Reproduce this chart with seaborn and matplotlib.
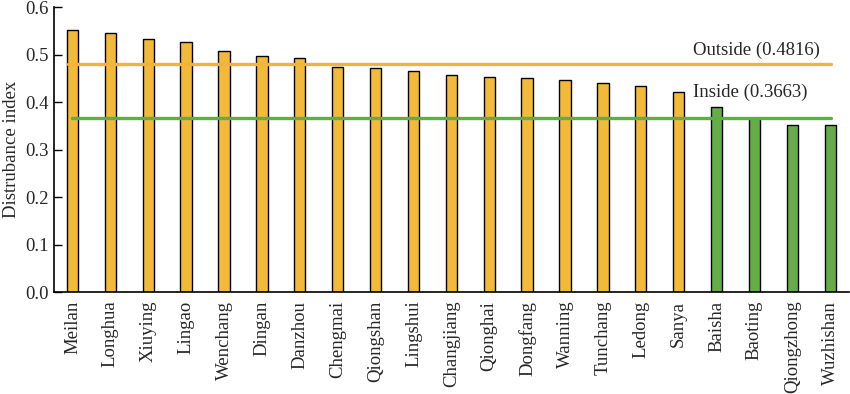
import matplotlib
matplotlib.use("Agg")
import matplotlib.pyplot as plt
import seaborn as sns
import pandas as pd
import numpy as np

# datos
regiones = ["Meilan", "Longhua", "Xiuying", "Lingao", "Wenchang", "Dingan", "Danzhou",
            "Chengmai", "Qiongshan", "Lingshui", "Changjiang", "Qionghai", "Dongfang",
            "Wanning", "Tunchang", "Ledong", "Sanya", "Baisha", "Baoting", "Qiongzhong",
            "Wuzhishan"]
indice = [0.552, 0.545, 0.533, 0.526, 0.507, 0.498, 0.493, 0.475, 0.473, 0.466,
          0.458, 0.454, 0.451, 0.447, 0.440, 0.435, 0.421, 0.390, 0.366, 0.353, 0.353]
grupo = ["Outside"] * 17 + ["Inside"] * 4
media_fuera = 0.4816
media_dentro = 0.3663

naranja = "#F2BA38"
verde = "#66AD4A"

df = pd.DataFrame({"Region": regiones, "Indice": indice, "Grupo": grupo})

sns.set_theme(style="white")
plt.rcParams["font.family"] = ["Liberation Serif", "DejaVu Serif"]
plt.rcParams["font.size"] = 13

fig = plt.figure(figsize=(8.5, 3.94), dpi=100)
ax = fig.add_axes([0.063, 0.258, 0.936, 0.7235])

sns.barplot(data=df, x="Region", y="Indice", hue="Grupo",
            palette={"Outside": naranja, "Inside": verde}, saturation=1,
            width=0.3, dodge=False, edgecolor="black", linewidth=1.0,
            legend=False, ax=ax)

# lineas de promedio
ax.plot([-0.12, 20.03], [media_fuera, media_fuera], color="#F2B33D", lw=2.4, zorder=1)
ax.plot([0.0, 20.03], [media_dentro, media_dentro], color="#5DAE45", lw=2.4, zorder=4)
ax.text(16.39, 0.510, f"Outside ({media_fuera})", fontsize=13.5, va="center")
ax.text(16.39, 0.420, f"Inside ({media_dentro})", fontsize=13.5, va="center")

ax.set_xlim(-0.5, 20.5)
ax.set_ylim(0, 0.6)
ax.set_yticks(np.arange(0, 0.61, 0.1))
ax.set_yticklabels([f"{v:.1f}" for v in np.arange(0, 0.61, 0.1)], fontsize=13.5)
ax.set_xticks(range(len(regiones)))
ax.set_xticklabels(regiones, rotation=90, fontsize=13.5)
ax.set_xticks(np.arange(0.5, 20.6, 1), minor=True)
ax.tick_params(axis="x", which="major", length=0, pad=6)
ax.tick_params(axis="x", which="minor", direction="in", length=6, width=1, color="black")
ax.tick_params(axis="y", direction="in", length=6, width=1, color="black", left=True)
ax.set_xlabel("")
ax.set_ylabel("Distrubance index", fontsize=13.5)
sns.despine(ax=ax)
for s in ["left", "bottom"]:
    ax.spines[s].set_color("black")
    ax.spines[s].set_linewidth(1.2)

fig.savefig("out.png", dpi=100)
